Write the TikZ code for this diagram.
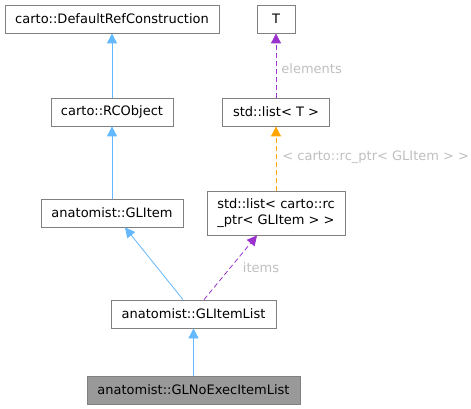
\documentclass[tikz,border=0pt]{standalone}
\usepackage{fontspec}
\setmainfont{DejaVu Sans}
\usetikzlibrary{arrows.meta, positioning}
\definecolor{inhcolor}{HTML}{63B8FF}
\definecolor{usecolor}{HTML}{9A32CD}
\definecolor{tplcolor}{HTML}{FFA500}
\definecolor{edgelabel}{HTML}{BFBFBF}
\definecolor{boxline}{HTML}{808080}

\tikzset{
    classbox/.style={draw=boxline, fill=white, line width=0.8pt, inner sep=0pt,
        minimum height=28pt, font=\fontsize{13}{16}\selectfont, align=center},
    inherit/.style={draw=inhcolor, line width=0.8pt, -{Triangle[length=10pt, width=10pt]}},
    uses/.style={draw=usecolor, line width=0.8pt, dash pattern=on 5pt off 3pt,
        -{Triangle[length=10pt, width=10pt]}},
    tmpl/.style={draw=tplcolor, line width=0.8pt, dash pattern=on 5pt off 3pt,
        -{Triangle[length=10pt, width=10pt]}},
    elabel/.style={text=edgelabel, font=\fontsize{13}{16}\selectfont, inner sep=0pt}
}

\begin{document}
\begin{tikzpicture}[x=1pt, y=-1pt]
    \useasboundingbox (0,0) rectangle (471,409);

    % Base classes
    \node[classbox, minimum width=214pt] (defref) at (112,19) {carto::DefaultRefConstruction};
    \node[classbox, minimum width=122pt] (rcobj) at (112,112) {carto::RCObject};
    \node[classbox, minimum width=142pt] (glitem) at (112,213) {anatomist::GLItem};

    % Template side
    \node[classbox, minimum width=38pt] (tparam) at (276,19) {T};
    \node[classbox, minimum width=107pt] (stdlist) at (276,112) {std::list< T >};
    \node[classbox, minimum width=138pt, minimum height=44pt] (rclist) at (276,213)
        {std::list< carto::rc\\\_ptr< GLItem > >};

    % Derived classes
    \node[classbox, minimum width=165pt] (itemlist) at (193.5,314) {anatomist::GLItemList};
    \node[classbox, minimum width=213pt, fill=black!40] (noexec) at (193.5,390)
        {anatomist::GLNoExecItemList};

    % Inheritance
    \draw[inherit] (rcobj) -- (defref);
    \draw[inherit] (glitem) -- (rcobj);
    \draw[inherit] (itemlist.north -| 183,0) -- (glitem.south -| 125,0);
    \draw[inherit] (noexec) -- (itemlist);

    % Usage and templates
    \draw[uses] (stdlist) -- (tparam)
        node[elabel, pos=0.45, right=5pt] {elements};
    \draw[tmpl] (rclist) -- (stdlist)
        node[elabel, pos=0.52, right=6pt] {< carto::rc\_ptr< GLItem > >};
    \draw[uses] (itemlist.north -| 204,0) -- (rclist.south -| 257,0)
        node[elabel, pos=0.5, right=12pt] {items};
\end{tikzpicture}
\end{document}
